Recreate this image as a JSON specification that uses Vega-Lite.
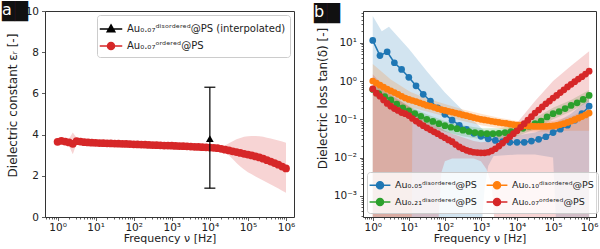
{
  "$schema": "https://vega.github.io/schema/vega-lite/v6.json",
  "padding": {"left": 1, "top": 1, "right": 0, "bottom": 0},
  "spacing": 69,
  "bounds": "flush",
  "resolve": {"scale": {"color": "independent", "fill": "independent", "shape": "independent"}, "legend": {"color": "independent", "fill": "independent", "shape": "independent"}},
  "datasets": {
    "apts": [
      {"f":1,"v":3.65,"lo":3.58,"hi":3.72},{"f":1.259,"v":3.70,"lo":3.63,"hi":3.77},{"f":1.585,"v":3.66,"lo":3.59,"hi":3.73},{"f":1.995,"v":3.62,"lo":3.45,"hi":3.8},{"f":2.512,"v":3.55,"lo":3.05,"hi":4.1},{"f":3.162,"v":3.68,"lo":3.55,"hi":3.85},{"f":3.981,"v":3.66,"lo":3.59,"hi":3.73},{"f":5.012,"v":3.63,"lo":3.56,"hi":3.70},{"f":6.31,"v":3.62,"lo":3.55,"hi":3.69},{"f":7.943,"v":3.61,"lo":3.54,"hi":3.68},
      {"f":10,"v":3.60,"lo":3.53,"hi":3.67},{"f":12.59,"v":3.59,"lo":3.52,"hi":3.66},{"f":15.85,"v":3.585,"lo":3.515,"hi":3.655},{"f":19.95,"v":3.58,"lo":3.51,"hi":3.65},{"f":25.12,"v":3.57,"lo":3.5,"hi":3.64},{"f":31.62,"v":3.565,"lo":3.495,"hi":3.635},{"f":39.81,"v":3.56,"lo":3.49,"hi":3.63},{"f":50.12,"v":3.55,"lo":3.48,"hi":3.62},{"f":63.1,"v":3.545,"lo":3.475,"hi":3.615},{"f":79.43,"v":3.54,"lo":3.47,"hi":3.61},
      {"f":100,"v":3.53,"lo":3.46,"hi":3.6},{"f":125.9,"v":3.52,"lo":3.45,"hi":3.59},{"f":158.5,"v":3.515,"lo":3.445,"hi":3.585},{"f":199.5,"v":3.51,"lo":3.44,"hi":3.58},{"f":251.2,"v":3.50,"lo":3.43,"hi":3.57},{"f":316.2,"v":3.49,"lo":3.42,"hi":3.56},{"f":398.1,"v":3.485,"lo":3.415,"hi":3.555},{"f":501.2,"v":3.48,"lo":3.41,"hi":3.55},{"f":631,"v":3.47,"lo":3.4,"hi":3.54},{"f":794.3,"v":3.465,"lo":3.395,"hi":3.535},
      {"f":1000,"v":3.46,"lo":3.39,"hi":3.53},{"f":1259,"v":3.45,"lo":3.38,"hi":3.52},{"f":1585,"v":3.445,"lo":3.375,"hi":3.515},{"f":1995,"v":3.44,"lo":3.37,"hi":3.51},{"f":2512,"v":3.43,"lo":3.36,"hi":3.5},{"f":3162,"v":3.42,"lo":3.35,"hi":3.49},{"f":3981,"v":3.41,"lo":3.34,"hi":3.48},{"f":5012,"v":3.40,"lo":3.33,"hi":3.47},{"f":6310,"v":3.39,"lo":3.32,"hi":3.46},{"f":7943,"v":3.38,"lo":3.31,"hi":3.45},
      {"f":10000,"v":3.37,"lo":3.3,"hi":3.44},{"f":12589,"v":3.36,"lo":3.29,"hi":3.43},{"f":15849,"v":3.34,"lo":3.27,"hi":3.41},{"f":19953,"v":3.31,"lo":3.22,"hi":3.4},{"f":25119,"v":3.27,"lo":3.15,"hi":3.47},{"f":31623,"v":3.23,"lo":3.0,"hi":3.58},{"f":39811,"v":3.19,"lo":2.82,"hi":3.68},{"f":50119,"v":3.15,"lo":2.62,"hi":3.77},{"f":63096,"v":3.11,"lo":2.45,"hi":3.84},{"f":79433,"v":3.07,"lo":2.3,"hi":3.89},
      {"f":100000,"v":3.03,"lo":2.17,"hi":3.92},{"f":125893,"v":2.99,"lo":2.07,"hi":3.93},{"f":158489,"v":2.94,"lo":1.97,"hi":3.93},{"f":199526,"v":2.89,"lo":1.87,"hi":3.92},{"f":251189,"v":2.83,"lo":1.77,"hi":3.89},{"f":316228,"v":2.76,"lo":1.67,"hi":3.85},{"f":398107,"v":2.69,"lo":1.58,"hi":3.81},{"f":501187,"v":2.62,"lo":1.48,"hi":3.76},{"f":630957,"v":2.54,"lo":1.38,"hi":3.71},{"f":794328,"v":2.45,"lo":1.28,"hi":3.66},
      {"f":1000000,"v":2.36,"lo":1.18,"hi":3.61}
    ],
    "aerr": [{"f":10000,"v":3.8,"lo":1.4,"hi":6.3}],
    "bband": [
      {"s":"b","f":1,"lo":0.0001,"hi":50},{"s":"b","f":1.778,"lo":0.0001,"hi":20},{"s":"b","f":2.818,"lo":0.0001,"hi":26},{"s":"b","f":10,"lo":0.0001,"hi":7},{"s":"b","f":31.62,"lo":0.0001,"hi":1.8},{"s":"b","f":100,"lo":0.0001,"hi":0.5},{"s":"b","f":316.2,"lo":0.0001,"hi":0.17},{"s":"b","f":1000,"lo":0.0001,"hi":0.06},{"s":"b","f":1259,"lo":0.0015,"hi":0.05},{"s":"b","f":1585,"lo":0.006,"hi":0.045},{"s":"b","f":2239,"lo":0.011,"hi":0.04},{"s":"b","f":10000,"lo":0.012,"hi":0.038},{"s":"b","f":31623,"lo":0.012,"hi":0.045},{"s":"b","f":100000,"lo":0.01,"hi":0.07},{"s":"b","f":125893,"lo":0.0001,"hi":0.085},{"s":"b","f":316228,"lo":0.0001,"hi":0.14},{"s":"b","f":1000000,"lo":0.0001,"hi":0.35},
      {"s":"g","f":1,"lo":0.42,"hi":0.8},{"s":"g","f":3.162,"lo":0.22,"hi":0.42},{"s":"g","f":10,"lo":0.11,"hi":0.22},{"s":"g","f":31.62,"lo":0.068,"hi":0.135},{"s":"g","f":100,"lo":0.047,"hi":0.09},{"s":"g","f":316.2,"lo":0.036,"hi":0.07},{"s":"g","f":1000,"lo":0.03,"hi":0.058},{"s":"g","f":3162,"lo":0.03,"hi":0.058},{"s":"g","f":10000,"lo":0.036,"hi":0.07},{"s":"g","f":31623,"lo":0.055,"hi":0.11},{"s":"g","f":100000,"lo":0.1,"hi":0.2},{"s":"g","f":316228,"lo":0.16,"hi":0.32},{"s":"g","f":1000000,"lo":0.29,"hi":0.58},
      {"s":"o","f":1,"lo":0.0001,"hi":2.8},{"s":"o","f":3.162,"lo":0.0001,"hi":1.1},{"s":"o","f":10,"lo":0.0001,"hi":0.55},{"s":"o","f":12.02,"lo":0.0001,"hi":0.5},{"s":"o","f":12.59,"lo":0.2,"hi":0.49},{"s":"o","f":31.62,"lo":0.16,"hi":0.35},{"s":"o","f":100,"lo":0.12,"hi":0.25},{"s":"o","f":316.2,"lo":0.09,"hi":0.18},{"s":"o","f":1000,"lo":0.07,"hi":0.14},{"s":"o","f":3162,"lo":0.058,"hi":0.11},{"s":"o","f":10000,"lo":0.05,"hi":0.09},{"s":"o","f":31623,"lo":0.048,"hi":0.085},{"s":"o","f":100000,"lo":0.048,"hi":0.09},{"s":"o","f":316228,"lo":0.05,"hi":0.12},{"s":"o","f":1000000,"lo":0.05,"hi":0.19},
      {"s":"r","f":1,"lo":0.0001,"hi":1.5},{"s":"r","f":3.162,"lo":0.0001,"hi":0.45},{"s":"r","f":10,"lo":0.0001,"hi":0.22},{"s":"r","f":31.62,"lo":0.0001,"hi":0.1},{"s":"r","f":63.1,"lo":0.0001,"hi":0.065},{"s":"r","f":79.43,"lo":0.004,"hi":0.058},{"s":"r","f":100,"lo":0.008,"hi":0.05},{"s":"r","f":158.5,"lo":0.0095,"hi":0.042},{"s":"r","f":631,"lo":0.0095,"hi":0.027},{"s":"r","f":1000,"lo":0.008,"hi":0.025},{"s":"r","f":1413,"lo":0.005,"hi":0.026},{"s":"r","f":1995,"lo":0.002,"hi":0.03},{"s":"r","f":2512,"lo":0.0001,"hi":0.035},{"s":"r","f":10000,"lo":0.0001,"hi":0.08},{"s":"r","f":31623,"lo":0.0001,"hi":0.3},{"s":"r","f":100000,"lo":0.0001,"hi":1.0},{"s":"r","f":316228,"lo":0.0001,"hi":2.5},{"s":"r","f":1000000,"lo":0.0001,"hi":6}
    ],
    "bpts": [
      {"s":"b","f":1,"v":11.5},{"s":"b","f":1.585,"v":4.6},{"s":"b","f":2.512,"v":5.8},{"s":"b","f":3.981,"v":3.0},{"s":"b","f":6.31,"v":2.0},{"s":"b","f":10,"v":1.25},{"s":"b","f":15.85,"v":0.75},{"s":"b","f":25.12,"v":0.45},{"s":"b","f":39.81,"v":0.3},{"s":"b","f":63.1,"v":0.2},{"s":"b","f":100,"v":0.135},{"s":"b","f":158.5,"v":0.095},{"s":"b","f":251.2,"v":0.07},{"s":"b","f":398.1,"v":0.055},{"s":"b","f":631,"v":0.043},{"s":"b","f":1000,"v":0.036},{"s":"b","f":1585,"v":0.031},{"s":"b","f":2512,"v":0.028},{"s":"b","f":3981,"v":0.026},{"s":"b","f":6310,"v":0.025},{"s":"b","f":10000,"v":0.025},{"s":"b","f":15849,"v":0.025},{"s":"b","f":25119,"v":0.027},{"s":"b","f":39811,"v":0.03},{"s":"b","f":63096,"v":0.035},{"s":"b","f":100000,"v":0.045},{"s":"b","f":158489,"v":0.055},{"s":"b","f":251189,"v":0.07},{"s":"b","f":398107,"v":0.095},{"s":"b","f":630957,"v":0.14},{"s":"b","f":1000000,"v":0.22},
      {"s":"g","f":1,"v":0.6},{"s":"g","f":1.468,"v":0.47},{"s":"g","f":2.154,"v":0.39},{"s":"g","f":3.162,"v":0.32},{"s":"g","f":4.642,"v":0.25},{"s":"g","f":6.813,"v":0.2},{"s":"g","f":10,"v":0.165},{"s":"g","f":14.68,"v":0.14},{"s":"g","f":21.54,"v":0.12},{"s":"g","f":31.62,"v":0.1},{"s":"g","f":46.42,"v":0.088},{"s":"g","f":68.13,"v":0.077},{"s":"g","f":100,"v":0.068},{"s":"g","f":146.8,"v":0.062},{"s":"g","f":215.4,"v":0.057},{"s":"g","f":316.2,"v":0.052},{"s":"g","f":464.2,"v":0.048},{"s":"g","f":681.3,"v":0.045},{"s":"g","f":1000,"v":0.043},{"s":"g","f":1468,"v":0.042},{"s":"g","f":2154,"v":0.042},{"s":"g","f":3162,"v":0.043},{"s":"g","f":4642,"v":0.045},{"s":"g","f":6813,"v":0.048},{"s":"g","f":10000,"v":0.052},{"s":"g","f":14678,"v":0.058},{"s":"g","f":21544,"v":0.066},{"s":"g","f":31623,"v":0.077},{"s":"g","f":46416,"v":0.09},{"s":"g","f":68129,"v":0.115},{"s":"g","f":100000,"v":0.14},{"s":"g","f":146780,"v":0.16},{"s":"g","f":215443,"v":0.19},{"s":"g","f":316228,"v":0.23},{"s":"g","f":464159,"v":0.27},{"s":"g","f":681292,"v":0.33},{"s":"g","f":1000000,"v":0.42},
      {"s":"o","f":1,"v":1.0},{"s":"o","f":1.259,"v":0.88},{"s":"o","f":1.585,"v":0.78},{"s":"o","f":1.995,"v":0.69},{"s":"o","f":2.512,"v":0.61},{"s":"o","f":3.162,"v":0.55},{"s":"o","f":3.981,"v":0.5},{"s":"o","f":5.012,"v":0.45},{"s":"o","f":6.31,"v":0.4},{"s":"o","f":7.943,"v":0.36},
      {"s":"o","f":10,"v":0.33},{"s":"o","f":12.59,"v":0.31},{"s":"o","f":15.85,"v":0.29},{"s":"o","f":19.95,"v":0.27},{"s":"o","f":25.12,"v":0.25},{"s":"o","f":31.62,"v":0.23},{"s":"o","f":39.81,"v":0.22},{"s":"o","f":50.12,"v":0.205},{"s":"o","f":63.1,"v":0.19},{"s":"o","f":79.43,"v":0.18},
      {"s":"o","f":100,"v":0.17},{"s":"o","f":125.9,"v":0.162},{"s":"o","f":158.5,"v":0.154},{"s":"o","f":199.5,"v":0.146},{"s":"o","f":251.2,"v":0.138},{"s":"o","f":316.2,"v":0.13},{"s":"o","f":398.1,"v":0.124},{"s":"o","f":501.2,"v":0.117},{"s":"o","f":631,"v":0.111},{"s":"o","f":794.3,"v":0.105},
      {"s":"o","f":1000,"v":0.1},{"s":"o","f":1259,"v":0.096},{"s":"o","f":1585,"v":0.093},{"s":"o","f":1995,"v":0.089},{"s":"o","f":2512,"v":0.086},{"s":"o","f":3162,"v":0.083},{"s":"o","f":3981,"v":0.08},{"s":"o","f":5012,"v":0.078},{"s":"o","f":6310,"v":0.075},{"s":"o","f":7943,"v":0.073},
      {"s":"o","f":10000,"v":0.071},{"s":"o","f":12589,"v":0.069},{"s":"o","f":15849,"v":0.068},{"s":"o","f":19953,"v":0.067},{"s":"o","f":25119,"v":0.066},{"s":"o","f":31623,"v":0.065},{"s":"o","f":39811,"v":0.065},{"s":"o","f":50119,"v":0.065},{"s":"o","f":63096,"v":0.065},{"s":"o","f":79433,"v":0.066},
      {"s":"o","f":100000,"v":0.067},{"s":"o","f":125893,"v":0.069},{"s":"o","f":158489,"v":0.073},{"s":"o","f":199526,"v":0.077},{"s":"o","f":251189,"v":0.083},{"s":"o","f":316228,"v":0.09},{"s":"o","f":398107,"v":0.098},{"s":"o","f":501187,"v":0.107},{"s":"o","f":630957,"v":0.118},{"s":"o","f":794328,"v":0.13},
      {"s":"o","f":1000000,"v":0.145},
      {"s":"r","f":1,"v":0.62},{"s":"r","f":1.259,"v":0.48},{"s":"r","f":1.585,"v":0.4},{"s":"r","f":1.995,"v":0.32},{"s":"r","f":2.512,"v":0.26},{"s":"r","f":3.162,"v":0.22},{"s":"r","f":3.981,"v":0.19},{"s":"r","f":5.012,"v":0.17},{"s":"r","f":6.31,"v":0.15},{"s":"r","f":7.943,"v":0.14},
      {"s":"r","f":10,"v":0.125},{"s":"r","f":12.59,"v":0.105},{"s":"r","f":15.85,"v":0.09},{"s":"r","f":19.95,"v":0.078},{"s":"r","f":25.12,"v":0.068},{"s":"r","f":31.62,"v":0.06},{"s":"r","f":39.81,"v":0.053},{"s":"r","f":50.12,"v":0.047},{"s":"r","f":63.1,"v":0.042},{"s":"r","f":79.43,"v":0.037},
      {"s":"r","f":100,"v":0.033},{"s":"r","f":125.9,"v":0.029},{"s":"r","f":158.5,"v":0.026},{"s":"r","f":199.5,"v":0.022},{"s":"r","f":251.2,"v":0.019},{"s":"r","f":316.2,"v":0.017},{"s":"r","f":398.1,"v":0.0155},{"s":"r","f":501.2,"v":0.0145},{"s":"r","f":631,"v":0.0138},{"s":"r","f":794.3,"v":0.0135},
      {"s":"r","f":1000,"v":0.0133},{"s":"r","f":1259,"v":0.0133},{"s":"r","f":1585,"v":0.0138},{"s":"r","f":1995,"v":0.015},{"s":"r","f":2512,"v":0.017},{"s":"r","f":3162,"v":0.02},{"s":"r","f":3981,"v":0.024},{"s":"r","f":5012,"v":0.029},{"s":"r","f":6310,"v":0.035},{"s":"r","f":7943,"v":0.042},
      {"s":"r","f":10000,"v":0.05},{"s":"r","f":12589,"v":0.062},{"s":"r","f":15849,"v":0.077},{"s":"r","f":19953,"v":0.095},{"s":"r","f":25119,"v":0.117},{"s":"r","f":31623,"v":0.145},{"s":"r","f":39811,"v":0.175},{"s":"r","f":50119,"v":0.21},{"s":"r","f":63096,"v":0.255},{"s":"r","f":79433,"v":0.3},
      {"s":"r","f":100000,"v":0.36},{"s":"r","f":125893,"v":0.42},{"s":"r","f":158489,"v":0.5},{"s":"r","f":199526,"v":0.59},{"s":"r","f":251189,"v":0.7},{"s":"r","f":316228,"v":0.82},{"s":"r","f":398107,"v":0.96},{"s":"r","f":501187,"v":1.12},{"s":"r","f":630957,"v":1.3},{"s":"r","f":794328,"v":1.52},
      {"s":"r","f":1000000,"v":1.8}
    ]
  },
  "hconcat": [
    {
      "width": 249,
      "height": 206,
      "title": {"text": "██", "subtitle": "\u00a0a", "anchor": "start", "frame": "group", "orient": "top", "dx": -43, "offset": -16, "fontSize": 17, "fontWeight": "normal", "color": "#111111", "subtitleFontSize": 16, "subtitleColor": "#ffffff", "subtitlePadding": -19},
      "layer": [
        {
          "data": {"name": "apts"},
          "mark": {"type": "area", "color": "#d62728", "opacity": 0.2, "clip": true},
          "encoding": {
            "x": {"field": "f", "type": "quantitative",
              "scale": {"type": "log", "domain": [0.4677, 1622000], "nice": false},
              "axis": {"title": "Frequency ν [Hz]", "titleFontSize": 11, "labelPadding": 2, "minExtent": 14, "maxExtent": 14, "titlePadding": 1,
                "values": [0.5,0.6,0.7,0.8,0.9,1,2,3,4,5,6,7,8,9,10,20,30,40,50,60,70,80,90,100,200,300,400,500,600,700,800,900,1000,2000,3000,4000,5000,6000,7000,8000,9000,10000,20000,30000,40000,50000,60000,70000,80000,90000,100000,200000,300000,400000,500000,600000,700000,800000,900000,1000000],
                "labelExpr": "abs(log(datum.value)/LN10-round(log(datum.value)/LN10))<0.001 ? '10'+['⁰','¹','²','³','⁴','⁵','⁶'][round(log(datum.value)/LN10)] : ''",
                "tickSize": {"condition": {"test": "abs(log(datum.value)/LN10-round(log(datum.value)/LN10))<0.001", "value": 3.5}, "value": 2}}},
            "y": {"field": "lo", "type": "quantitative",
              "scale": {"domain": [0, 10], "nice": false, "zero": false},
              "axis": {"title": "Dielectric constant εᵣ [-]", "titleFontSize": 12, "values": [0,2,4,6,8,10], "tickSize": 3.5, "labelPadding": 3, "minExtent": 20, "maxExtent": 20, "titlePadding": 6, "titleY": 94}},
            "y2": {"field": "hi"}
          }
        },
        {
          "data": {"name": "apts"},
          "mark": {"type": "line", "strokeWidth": 1.5, "clip": true},
          "encoding": {
            "x": {"field": "f", "type": "quantitative"},
            "y": {"field": "v", "type": "quantitative"},
            "color": {"datum": "ord", "type": "nominal",
              "scale": {"domain": ["interp", "ord"], "range": ["#000000", "#d62728"]},
              "legend": {"title": null, "orient": "top-right", "offset": 4, "labelFontSize": 10, "symbolSize": 324, "rowPadding": 1, "symbolStrokeWidth": 1.5, "labelOffset": 6, "symbolOpacity": 1,
                "labelExpr": "datum.value === 'interp' ? 'Au₀.₀₇ᵈⁱˢᵒʳᵈᵉʳᵉᵈ@PS (interpolated)' : 'Au₀.₀₇ᵒʳᵈᵉʳᵉᵈ@PS'"}}
          }
        },
        {
          "data": {"name": "apts"},
          "mark": {"type": "point", "filled": true, "opacity": 1, "size": 60, "shape": "circle", "clip": true},
          "encoding": {
            "x": {"field": "f", "type": "quantitative"},
            "y": {"field": "v", "type": "quantitative"},
            "color": {"datum": "ord", "type": "nominal"}
          }
        },
        {
          "data": {"name": "aerr"},
          "mark": {"type": "rule", "color": "#000000", "strokeWidth": 1.2},
          "encoding": {
            "x": {"field": "f", "type": "quantitative"},
            "y": {"field": "lo", "type": "quantitative"},
            "y2": {"field": "hi"}
          }
        },
        {
          "data": {"name": "aerr"},
          "mark": {"type": "tick", "orient": "horizontal", "color": "#000000", "size": 11, "thickness": 1.2, "opacity": 1},
          "encoding": {
            "x": {"field": "f", "type": "quantitative"},
            "y": {"field": "lo", "type": "quantitative"}
          }
        },
        {
          "data": {"name": "aerr"},
          "mark": {"type": "tick", "orient": "horizontal", "color": "#000000", "size": 11, "thickness": 1.2, "opacity": 1},
          "encoding": {
            "x": {"field": "f", "type": "quantitative"},
            "y": {"field": "hi", "type": "quantitative"}
          }
        },
        {
          "data": {"name": "aerr"},
          "mark": {"type": "point", "filled": true, "opacity": 1, "size": 60, "shape": "triangle-up"},
          "encoding": {
            "x": {"field": "f", "type": "quantitative"},
            "y": {"field": "v", "type": "quantitative"},
            "color": {"datum": "interp", "type": "nominal"}
          }
        },
        {
          "data": {"name": "aerr"},
          "mark": {"type": "point", "filled": true, "opacity": 1, "size": 0},
          "encoding": {
            "x": {"field": "f", "type": "quantitative"},
            "y": {"field": "v", "type": "quantitative"},
            "color": {"datum": "interp", "type": "nominal"},
            "shape": {"datum": "interp", "type": "nominal",
              "scale": {"domain": ["interp", "ord"], "range": ["M-1.25,0H1.25M0,-0.45L0.42,0.3H-0.42Z", "M-1.25,0H1.25M0.39,0A0.39,0.39,0,1,1,-0.39,0A0.39,0.39,0,1,1,0.39,0Z"]},
              "legend": {"title": null, "orient": "top-right", "offset": 4, "labelFontSize": 10, "symbolSize": 324, "rowPadding": 1, "symbolStrokeWidth": 1.5, "labelOffset": 6, "symbolOpacity": 1,
                "labelExpr": "datum.value === 'interp' ? 'Au₀.₀₇ᵈⁱˢᵒʳᵈᵉʳᵉᵈ@PS (interpolated)' : 'Au₀.₀₇ᵒʳᵈᵉʳᵉᵈ@PS'"}}
          }
        }
      ]
    },
    {
      "width": 233,
      "height": 206,
      "title": {"text": "██", "subtitle": "\u00a0b", "anchor": "start", "frame": "group", "orient": "top", "dx": -49, "offset": -16, "fontSize": 17, "fontWeight": "normal", "color": "#111111", "subtitleFontSize": 16, "subtitleColor": "#ffffff", "subtitlePadding": -19},
      "layer": [
        {
          "data": {"name": "bband"},
          "mark": {"type": "area", "opacity": 0.2, "clip": true},
          "encoding": {
            "x": {"field": "f", "type": "quantitative",
              "scale": {"type": "log", "domain": [0.537, 1549000], "nice": false},
              "axis": {"title": "Frequency ν [Hz]", "titleFontSize": 11, "labelPadding": 2, "minExtent": 14, "maxExtent": 14, "titlePadding": 1,
                "values": [0.6,0.7,0.8,0.9,1,2,3,4,5,6,7,8,9,10,20,30,40,50,60,70,80,90,100,200,300,400,500,600,700,800,900,1000,2000,3000,4000,5000,6000,7000,8000,9000,10000,20000,30000,40000,50000,60000,70000,80000,90000,100000,200000,300000,400000,500000,600000,700000,800000,900000,1000000],
                "labelExpr": "abs(log(datum.value)/LN10-round(log(datum.value)/LN10))<0.001 ? '10'+['⁰','¹','²','³','⁴','⁵','⁶'][round(log(datum.value)/LN10)] : ''",
                "tickSize": {"condition": {"test": "abs(log(datum.value)/LN10-round(log(datum.value)/LN10))<0.001", "value": 3.5}, "value": 2}}},
            "y": {"field": "lo", "type": "quantitative",
              "scale": {"type": "log", "domain": [0.000281, 67.3], "nice": false},
              "axis": {"title": "Dielectric loss tan(δ) [-]", "titleFontSize": 12, "minExtent": 28, "maxExtent": 28, "titlePadding": 6, "titleY": 87, "labelPadding": 3,
                "values": [0.0003,0.0004,0.0005,0.0006,0.0007,0.0008,0.0009,0.001,0.002,0.003,0.004,0.005,0.006,0.007,0.008,0.009,0.01,0.02,0.03,0.04,0.05,0.06,0.07,0.08,0.09,0.1,0.2,0.3,0.4,0.5,0.6,0.7,0.8,0.9,1,2,3,4,5,6,7,8,9,10,20,30,40,50,60],
                "labelExpr": "abs(log(datum.value)/LN10-round(log(datum.value)/LN10))<0.001 ? '10'+(datum.value<1?'⁻':'')+['⁰','¹','²','³','⁴'][abs(round(log(datum.value)/LN10))] : ''",
                "tickSize": {"condition": {"test": "abs(log(datum.value)/LN10-round(log(datum.value)/LN10))<0.001", "value": 3.5}, "value": 2}}},
            "y2": {"field": "hi"},
            "fill": {"field": "s", "type": "nominal", "legend": null,
              "scale": {"domain": ["r", "o", "g", "b"], "range": ["#d62728", "#ff7f0e", "#2ca02c", "#1f77b4"]}}
          }
        },
        {
          "data": {"name": "bpts"},
          "mark": {"type": "line", "strokeWidth": 1.5, "clip": true},
          "encoding": {
            "x": {"field": "f", "type": "quantitative"},
            "y": {"field": "v", "type": "quantitative"},
            "color": {"field": "s", "type": "nominal"}
          }
        },
        {
          "data": {"name": "bpts"},
          "mark": {"type": "point", "filled": true, "opacity": 1, "size": 45, "shape": "circle", "clip": true},
          "encoding": {
            "x": {"field": "f", "type": "quantitative"},
            "y": {"field": "v", "type": "quantitative"},
            "color": {"field": "s", "type": "nominal",
              "scale": {"domain": ["b", "g", "o", "r"], "range": ["#1f77b4", "#2ca02c", "#ff7f0e", "#d62728"]},
              "legend": {"title": null, "orient": "bottom-left", "offset": 4, "columns": 2, "columnPadding": 6, "labelFontSize": 9.5, "symbolSize": 256, "rowPadding": 1, "symbolStrokeWidth": 1.5, "labelOffset": 6, "symbolOpacity": 1,
                "symbolType": "M-1.3,0H1.3M0.44,0A0.44,0.44,0,1,1,-0.44,0A0.44,0.44,0,1,1,0.44,0Z",
                "labelExpr": "datum.value === 'b' ? 'Au₀.₀₅ᵈⁱˢᵒʳᵈᵉʳᵉᵈ@PS' : datum.value === 'o' ? 'Au₀.₁₀ᵈⁱˢᵒʳᵈᵉʳᵉᵈ@PS' : datum.value === 'g' ? 'Au₀.₂₁ᵈⁱˢᵒʳᵈᵉʳᵉᵈ@PS' : 'Au₀.₀₇ᵒʳᵈᵉʳᵉᵈ@PS'"}
            }
          }
        }
      ]
    }
  ],
  "config": {
    "font": "DejaVu Sans",
    "view": {"stroke": "#333333", "strokeWidth": 1},
    "axis": {"grid": false, "domain": false, "tickColor": "#333333", "tickWidth": 0.8, "labelColor": "#222222", "titleColor": "#222222", "labelFontSize": 10.5, "titleFontWeight": "normal", "labelOverlap": false, "labelFlush": false, "labelBound": false},
    "legend": {"labelColor": "#222222", "strokeColor": "#cccccc", "fillColor": "rgba(255,255,255,0.8)", "cornerRadius": 3, "padding": 4, "labelFont": "DejaVu Sans"},
    "title": {"font": "DejaVu Sans", "subtitleFont": "DejaVu Sans"}
  }
}
